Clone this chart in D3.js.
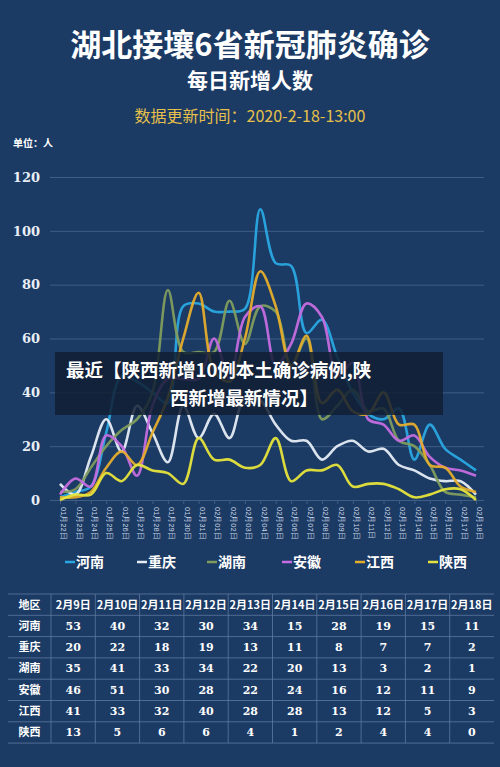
<!DOCTYPE html>
<html><head><meta charset="utf-8">
<script src="https://cdn.jsdelivr.net/npm/d3@7"></script>
<style>body{margin:0;background:#1b3a64;}svg{display:block;font-family:"Noto Sans CJK SC",sans-serif;}</style>
</head><body>
<script>
const dates = ["01月22日","01月23日","01月24日","01月25日","01月26日","01月27日","01月28日","01月29日","01月30日","01月31日",
  "02月01日","02月02日","02月03日","02月04日","02月05日","02月06日","02月07日","02月08日","02月09日","02月10日",
  "02月11日","02月12日","02月13日","02月14日","02月15日","02月16日","02月17日","02月18日"];
const provinces = ["河南","重庆","湖南","安徽","江西","陕西"];
const colors = ["#2aa6e2","#e6edf5","#7f9c5e","#c56de0","#e4ad2c","#e6e43c"];
const henan    = [1,3,5,25,46,44,40,36,72,73,70,70,71,108,88,87,62,67,53,40,32,30,34,15,28,19,15,11];
const chongqing= [6,2,16,30,18,35,25,14,35,23,32,23,38,37,28,22,22,15,20,22,18,19,13,11,8,7,7,2];
const hunan    = [3,4,12,20,26,30,40,78,55,55,55,74,58,72,70,50,60,30,35,41,33,34,22,20,13,3,2,1];
const anhui    = [2,8,5,24,20,9,35,45,45,45,60,45,68,72,50,58,73,68,46,51,30,28,22,24,16,12,11,9];
const jiangxi  = [1,1,3,12,18,13,25,38,60,77,48,44,60,85,72,50,61,36,41,33,32,40,28,28,13,12,5,3];
const shaanxi  = [0,2,2,10,7,13,11,10,6,23,15,15,12,13,23,7,11,11,13,5,6,6,4,1,2,4,4,0];
const series = [henan, chongqing, hunan, anhui, jiangxi, shaanxi];
const yTicks = [0,20,40,60,80,100,120];
const tableDates = ["2月9日","2月10日","2月11日","2月12日","2月13日","2月14日","2月15日","2月16日","2月17日","2月18日"];

const W = 500, H = 767;
const svg = d3.select("body").append("svg").attr("width", W).attr("height", H);
svg.append("rect").attr("width", W).attr("height", H).attr("fill", "#1b3a64");

//Titles
svg.append("text").attr("x", 250).attr("y", 56).attr("text-anchor", "middle")
  .attr("fill", "#fff").attr("font-size", 31).attr("font-weight", "bold").text("湖北接壤6省新冠肺炎确诊");
svg.append("text").attr("x", 250).attr("y", 88).attr("text-anchor", "middle")
  .attr("fill", "#fff").attr("font-size", 21).attr("font-weight", "bold").text("每日新增人数");
svg.append("text").attr("x", 250).attr("y", 122).attr("text-anchor", "middle")
  .attr("fill", "#e6c04a").attr("font-size", 16).text("数据更新时间：2020-2-18-13:00");
svg.append("text").attr("x", 13).attr("y", 147)
  .attr("fill", "#fff").attr("font-size", 10).attr("font-weight", "bold").text("单位：人");

//Scales
const x = d3.scalePoint().domain(dates).range([60, 476]);
const y = d3.scaleLinear().domain([0, 120]).range([500, 177]);

const yAxis = svg.append("g").attr("transform", "translate(50,0)")
  .call(d3.axisLeft(y).tickValues(yTicks).tickSize(-434).tickPadding(10));
yAxis.select(".domain").remove();
yAxis.selectAll("line").attr("stroke", "#3f5e86").attr("stroke-width", 1);
yAxis.selectAll("text").attr("fill", "#e8eef5").attr("font-size", 13).attr("font-weight", "bold")
  .attr("font-family", "DejaVu Serif, serif");

const xAxis = svg.append("g").attr("transform", "translate(0,500)")
  .call(d3.axisBottom(x).tickSize(4));
xAxis.select(".domain").attr("stroke", "#3f5e86");
xAxis.selectAll("line").attr("stroke", "#3f5e86");
xAxis.selectAll("text").attr("fill", "#c9d4e3").attr("font-size", 7.5)
  .attr("transform", "rotate(90)").attr("text-anchor", "start").attr("x", 7).attr("y", -3).attr("dy", "0.3em");

//Lines
const line = d3.line().x((d, i) => x(dates[i])).y(d => y(d)).curve(d3.curveCatmullRom.alpha(0.5));
series.forEach((s, k) => {
  svg.append("path").datum(s).attr("d", line).attr("fill", "none")
    .attr("stroke", colors[k]).attr("stroke-width", 2.6).attr("opacity", 0.95);
});

//Legend
const legendX = [65, 137, 207, 282, 355, 428];
provinces.forEach((p, k) => {
  svg.append("line").attr("x1", legendX[k]).attr("x2", legendX[k] + 10).attr("y1", 562).attr("y2", 562)
    .attr("stroke", colors[k]).attr("stroke-width", 2.5);
  svg.append("text").attr("x", legendX[k] + 11).attr("y", 567).attr("fill", "#fff")
    .attr("font-size", 14).attr("font-weight", "bold").text(p);
});

//Banner overlay
svg.append("rect").attr("x", 55).attr("y", 352).attr("width", 388).attr("height", 63)
  .attr("fill", "#101e33").attr("opacity", 0.85);
svg.append("text").attr("x", 66).attr("y", 377).attr("fill", "#fff").attr("font-size", 18.5)
  .attr("font-weight", "bold").text("最近【陕西新增10例本土确诊病例,陕");
svg.append("text").attr("x", 244).attr("y", 405).attr("text-anchor", "middle").attr("fill", "#fff").attr("font-size", 18.5)
  .attr("font-weight", "bold").text("西新增最新情况】");

//Table
const tx0 = 8, c0w = 43, cw = 44.3, ty0 = 594, rh = 21.3;
const tg = svg.append("g");
const nRows = provinces.length + 1;
for (let r = 0; r <= nRows; r++) {
  tg.append("line").attr("x1", tx0).attr("x2", tx0 + c0w + cw * 10).attr("y1", ty0 + r * rh).attr("y2", ty0 + r * rh)
    .attr("stroke", "#5d7aa0").attr("stroke-width", 0.8);
}
for (let c = 0; c <= 9; c++) {
  tg.append("line").attr("x1", tx0 + c0w + cw * c).attr("x2", tx0 + c0w + cw * c)
    .attr("y1", ty0).attr("y2", ty0 + nRows * rh).attr("stroke", "#5d7aa0").attr("stroke-width", 0.8);
}
const cell = (cx, cy, t) => tg.append("text").attr("x", cx).attr("y", cy).attr("text-anchor", "middle")
  .attr("dy", "0.35em").attr("fill", "#fff").attr("font-size", 11).attr("font-weight", "bold").text(t);
cell(tx0 + c0w / 2, ty0 + rh / 2, "地区");
tableDates.forEach((d, c) => cell(tx0 + c0w + cw * (c + 0.5), ty0 + rh / 2, d));
provinces.forEach((p, r) => {
  const cy = ty0 + rh * (r + 1.5);
  cell(tx0 + c0w / 2, cy, p);
  series[r].slice(18).forEach((v, c) => {
    cell(tx0 + c0w + cw * (c + 0.5), cy, v).attr("font-family", "DejaVu Serif, serif").attr("font-size", 11);
  });
});
</script>
</body></html>
